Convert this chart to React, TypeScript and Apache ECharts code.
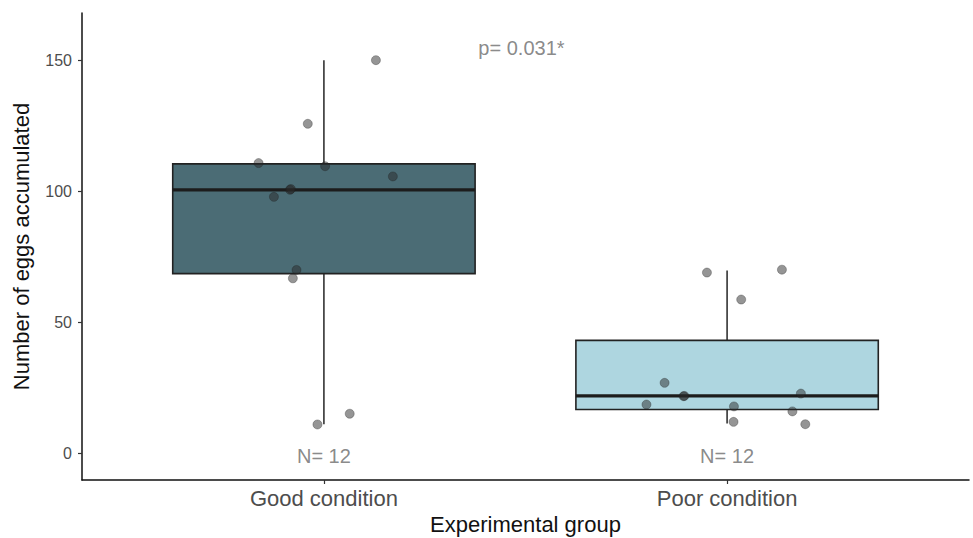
import React, { useEffect, useRef } from "react";
import * as echarts from "echarts";

const categories = ["Good condition", "Poor condition"];
// [lower whisker, Q1, median, Q3, upper whisker]
const goodStats = [11, 68.5, 100.5, 110.4, 150];
const poorStats = [11.3, 16.6, 21.8, 43.0, 69.7];
const boxColors = ["#4b6c75", "#aed6e0"];

const goodValues = [150, 125.7, 110.7, 109.5, 105.6, 100.5, 100.8, 97.8, 69.9, 66.7, 10.9, 15.0];
const goodJitter = [0.129, -0.04, -0.162, 0.003, 0.171, -0.084, -0.082, -0.124, -0.068, -0.077, -0.016, 0.064];
const poorValues = [68.9, 70.0, 58.6, 26.8, 21.7, 21.8, 22.7, 18.5, 17.8, 15.9, 11.9, 11.0];
const poorJitter = [-0.05, 0.136, 0.035, -0.155, -0.108, -0.106, 0.183, -0.2, 0.017, 0.162, 0.016, 0.194];

const countLabels = ["N= 12", "N= 12"];
const pLabel = "p= 0.031*";
const yTicks = [0, 50, 100, 150];

export default function App() {
  const ref = useRef<HTMLDivElement>(null);
  useEffect(() => {
    if (!ref.current) return;
    const chart = echarts.init(ref.current, null, { renderer: "svg" });
    const boxData = [
      [1, ...goodStats],
      [2, ...poorStats],
    ];
    const points = [
      ...goodValues.map((v, i) => [1 + goodJitter[i], v]),
      ...poorValues.map((v, i) => [2 + poorJitter[i], v]),
    ];
    const annotations = [
      { name: countLabels[0], value: [1, -1.2] },
      { name: countLabels[1], value: [2, -1.2] },
      { name: pLabel, value: [1.49, 154.5] },
    ];
    chart.setOption({
      animation: false,
      backgroundColor: "#ffffff",
      grid: { left: 82, right: 4, top: 13, bottom: 58, outerBoundsMode: "none" },
      xAxis: {
        type: "value",
        min: 0.4,
        max: 2.6,
        splitLine: { show: false },
        axisLine: { show: true, onZero: false, lineStyle: { color: "#111", width: 1.5 } },
        axisTick: { show: true, customValues: [1, 2], length: 4, lineStyle: { color: "#333", width: 1.2 } },
        axisLabel: {
          customValues: [1, 2],
          formatter: (v: number) => categories[Math.round(v) - 1] || "",
          color: "#4d4d4d",
          fontSize: 22,
          fontFamily: "Liberation Sans, Arial, sans-serif",
          margin: 7,
        },
        name: "Experimental group",
        nameLocation: "middle",
        nameGap: 31,
        nameTextStyle: { color: "#111", fontSize: 22, fontFamily: "Liberation Sans, Arial, sans-serif", verticalAlign: "top" },
      },
      yAxis: {
        type: "value",
        min: -10.3,
        max: 168,
        splitLine: { show: false },
        axisLine: { show: true, onZero: false, lineStyle: { color: "#111", width: 1.5 } },
        axisTick: { show: true, customValues: yTicks, length: 4, lineStyle: { color: "#333", width: 1.2 } },
        axisLabel: {
          customValues: yTicks,
          color: "#4d4d4d",
          fontSize: 16,
          fontFamily: "Liberation Sans, Arial, sans-serif",
          margin: 10,
        },
        name: "Number of eggs accumulated",
        nameLocation: "middle",
        nameGap: 50,
        nameTextStyle: { color: "#111", fontSize: 22, fontFamily: "Liberation Sans, Arial, sans-serif" },
      },
      series: [
        {
          type: "custom",
          silent: true,
          data: boxData,
          encode: { x: 0, y: [1, 2, 3, 4, 5] },
          renderItem: (params: any, api: any) => {
            const x = api.value(0);
            const lo = api.coord([x, api.value(1)]);
            const q1 = api.coord([x, api.value(2)]);
            const med = api.coord([x, api.value(3)]);
            const q3 = api.coord([x, api.value(4)]);
            const hi = api.coord([x, api.value(5)]);
            const w = api.size([0.75, 0])[0];
            const fill = boxColors[params.dataIndex];
            return {
              type: "group",
              children: [
                { type: "line", shape: { x1: hi[0], y1: hi[1], x2: q3[0], y2: q3[1] }, style: { stroke: "#333", lineWidth: 1.6 } },
                { type: "line", shape: { x1: lo[0], y1: lo[1], x2: q1[0], y2: q1[1] }, style: { stroke: "#333", lineWidth: 1.6 } },
                {
                  type: "rect",
                  shape: { x: q3[0] - w / 2, y: q3[1], width: w, height: q1[1] - q3[1] },
                  style: { fill, stroke: "#222", lineWidth: 1.6 },
                },
                {
                  type: "line",
                  shape: { x1: med[0] - w / 2, y1: med[1], x2: med[0] + w / 2, y2: med[1] },
                  style: { stroke: "#1c1c1c", lineWidth: 3.2 },
                },
              ],
            };
          },
        },
        {
          type: "scatter",
          silent: true,
          data: points,
          symbolSize: 9,
          itemStyle: { color: "rgba(40,40,40,0.62)", borderColor: "rgba(30,30,30,0.5)", borderWidth: 0.8 },
        },
        {
          type: "scatter",
          silent: true,
          data: annotations,
          symbolSize: 0,
          label: {
            show: true,
            position: "inside",
            formatter: (p: any) => p.name,
            color: "#6b6b6b",
            fontSize: 20,
            fontFamily: "Liberation Sans, Arial, sans-serif",
          },
        },
      ],
    });
    return () => chart.dispose();
  }, []);
  return <div ref={ref} style={{ position: "absolute", left: 0, top: 0, width: 973, height: 538 }} />;
}
